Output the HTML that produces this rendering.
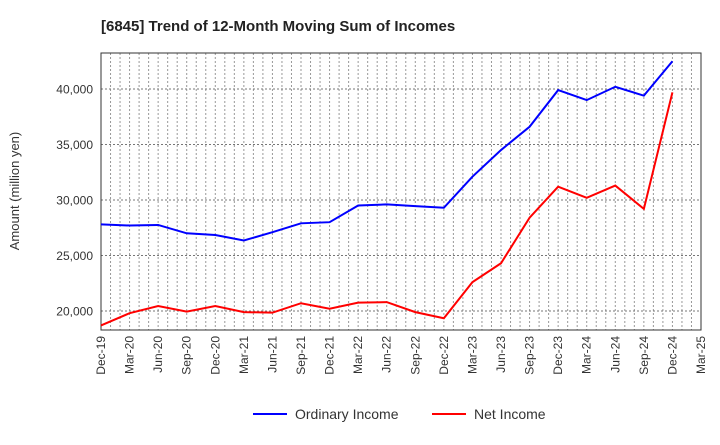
<!DOCTYPE html>
<html><head><meta charset="utf-8"><style>
body{margin:0;background:#fff;font-family:"Liberation Sans",sans-serif;}
</style></head><body>
<svg id="c" width="720" height="440" xmlns="http://www.w3.org/2000/svg">
<text x="101" y="31" font-size="15" font-weight="bold" fill="#222">[6845]  Trend of 12-Month Moving Sum of Incomes</text>
<g id="grid"></g><g id="axes"></g><g id="series"></g>
<text transform="translate(19,191) rotate(-90)" text-anchor="middle" font-size="13" fill="#333">Amount (million yen)</text>
<g>
<line x1="253" y1="414" x2="287" y2="414" stroke="#0000ff" stroke-width="2"/>
<text x="295" y="419" font-size="14" fill="#333">Ordinary Income</text>
<line x1="432" y1="414" x2="466" y2="414" stroke="#ff0000" stroke-width="2"/>
<text x="474" y="419" font-size="14" fill="#333">Net Income</text>
</g>
</svg>
<script>
const categories=["Dec-19","Mar-20","Jun-20","Sep-20","Dec-20","Mar-21","Jun-21","Sep-21","Dec-21","Mar-22","Jun-22","Sep-22","Dec-22","Mar-23","Jun-23","Sep-23","Dec-23","Mar-24","Jun-24","Sep-24","Dec-24","Mar-25"];
const ordinaryIncome=[27800,27700,27750,27000,26850,26350,27100,27900,28000,29500,29600,29450,29300,32100,34500,36600,39900,39000,40200,39400,42500];
const netIncome=[18700,19800,20450,19950,20450,19900,19850,20700,20200,20750,20800,19900,19350,22600,24300,28400,31200,30200,31300,29200,39700];
const yTicks=[20000,25000,30000,35000,40000];
const L=101,R=701,T=53,B=330,yMin=18288,yMax=43243;
const NS="http://www.w3.org/2000/svg";
const xs=i=>L+i*(R-L)/(categories.length-1);
const ys=v=>B-(v-yMin)/(yMax-yMin)*(B-T);
function mk(t,a,p){const e=document.createElementNS(NS,t);for(const k in a)e.setAttribute(k,a[k]);p.appendChild(e);return e;}
const g=document.getElementById('grid'),ax=document.getElementById('axes'),s=document.getElementById('series');
for(let i=0;i<(categories.length-1)*3;i++){const x=L+i*(R-L)/((categories.length-1)*3);
const l=mk('line',{x1:x,x2:x,y1:T,y2:B,stroke:'#999','stroke-dasharray':'2,2','stroke-width':1},g);

}
yTicks.forEach(v=>{const y=ys(v);
const l=mk('line',{x1:L,x2:R,y1:y,y2:y,stroke:'#777','stroke-dasharray':'2,2'},g);


const t=mk('text',{x:L-8,y:y+4.5,'text-anchor':'end','font-size':12,fill:'#333'},ax);t.textContent=v.toLocaleString('en-US');

});
const fr=mk('rect',{x:L,y:T,width:R-L,height:B-T,fill:'none',stroke:'#333'},ax);


categories.forEach((c,i)=>{const x=xs(i);
const t=mk('text',{transform:`translate(${x+4},${B+6}) rotate(-90)`,'text-anchor':'end','font-size':12,fill:'#333'},ax);t.textContent=c;

});
function line(d,col,name){const p=mk('polyline',{points:d.map((v,i)=>xs(i)+','+ys(v)).join(' '),fill:'none',stroke:col,'stroke-width':2},s);

}
line(ordinaryIncome,'#0000ff','ordinary-income-line');
line(netIncome,'#ff0000','net-income-line');
</script>
</body></html>
